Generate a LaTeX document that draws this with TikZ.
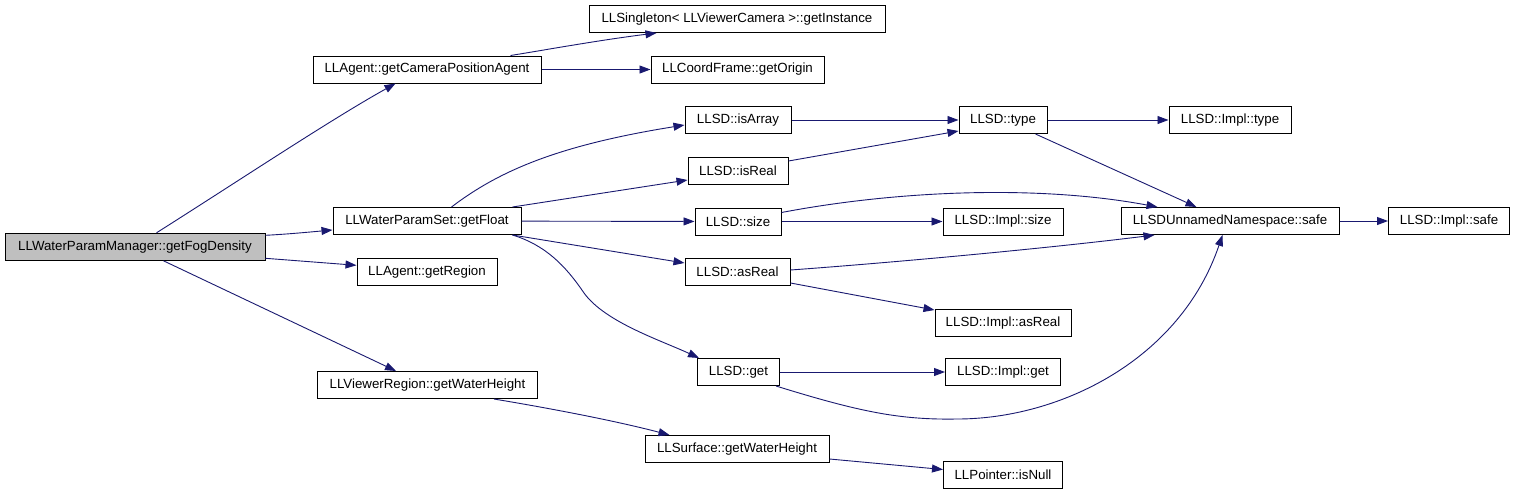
\documentclass[tikz,border=0pt]{standalone}
\usepackage{fontspec}
\setmainfont{Liberation Sans}
\usetikzlibrary{arrows.meta,calc}
\definecolor{edgecol}{HTML}{191970}
\definecolor{fillgray}{HTML}{BFBFBF}
\begin{document}
\begin{tikzpicture}[x=1pt,y=-1pt,
  fn/.style={draw=black, line width=1pt, minimum height=27pt, inner sep=0pt, fill=white,
             font=\fontsize{13.3}{15}\selectfont},
  ed/.style={draw=edgecol, line width=0.9pt, -{Triangle[length=11pt,width=8pt]}}]
\fill[white] (0,0) rectangle (1515,493);
\useasboundingbox (0,0) rectangle (1515,493);

\node[fn, fill=fillgray, minimum width=260pt] (fog) at (135,246.8) {LLWaterParamManager::getFogDensity};
\node[fn, minimum width=228pt] (cpa) at (427,69.5) {LLAgent::getCameraPositionAgent};
\node[fn, minimum width=296pt] (inst) at (737,19) {LLSingleton< LLViewerCamera >::getInstance};
\node[fn, minimum width=173pt] (origin) at (737.5,69.5) {LLCoordFrame::getOrigin};
\node[fn, minimum width=188pt] (float) at (427,221) {LLWaterParamSet::getFloat};
\node[fn, minimum width=140pt] (region) at (427,272) {LLAgent::getRegion};
\node[fn, minimum width=220pt] (vrwh) at (427.5,385) {LLViewerRegion::getWaterHeight};
\node[fn, minimum width=106pt] (isarray) at (738,120) {LLSD::isArray};
\node[fn, minimum width=100pt] (isreal) at (738,171) {LLSD::isReal};
\node[fn, minimum width=86pt] (size) at (738,221.5) {LLSD::size};
\node[fn, minimum width=105pt] (asreal) at (737.5,272) {LLSD::asReal};
\node[fn, minimum width=82pt] (get) at (738.5,372) {LLSD::get};
\node[fn, minimum width=184pt] (surf) at (737,449) {LLSurface::getWaterHeight};
\node[fn, minimum width=88pt] (type) at (1003,120) {LLSD::type};
\node[fn, minimum width=120pt] (isize) at (1003,221.5) {LLSD::Impl::size};
\node[fn, minimum width=136pt] (iasreal) at (1003,323) {LLSD::Impl::asReal};
\node[fn, minimum width=115pt] (iget) at (1003,372) {LLSD::Impl::get};
\node[fn, minimum width=119pt] (isnull) at (1003,474.5) {LLPointer::isNull};
\node[fn, minimum width=122pt] (itype) at (1230,120) {LLSD::Impl::type};
\node[fn, minimum width=218pt] (safe) at (1230,221) {LLSDUnnamedNamespace::safe};
\node[fn, minimum width=121pt] (isafe) at (1449,221) {LLSD::Impl::safe};

% from getFogDensity
\draw[ed] ($(fog.north west)+(152,0)$) .. controls (240,180) and (330,120) .. ($(cpa.south west)+(83,0)$);
\draw[ed] ($(fog.north east)+(0,2.5)$) .. controls (290,234) and (310,232) .. ($(float.west)+(0,9)$);
\draw[ed] ($(fog.south east)+(0,-2.5)$) -- ($(region.west)+(0,-6.7)$);
\draw[ed] ($(fog.south west)+(159,0)$) -- ($(vrwh.north west)+(79,0)$);

% from getCameraPositionAgent
\draw[ed] ($(cpa.north west)+(198,0)$) .. controls (545,50) and (600,40) .. ($(inst.south west)+(68,0)$);
\draw[ed] (cpa) -- (origin);

% from getFloat
\draw[ed] ($(float.north west)+(119,0)$) .. controls (500,170) and (560,145) .. ($(isarray.west)+(0,5)$);
\draw[ed] ($(float.north east)+(-9,0)$) -- ($(isreal.west)+(0,9)$);
\draw[ed] (float) -- (size);
\draw[ed] ($(float.south east)+(-9,0)$) -- ($(asreal.west)+(0,-9)$);
\draw[ed] ($(float.south east)+(-9,0)$) .. controls (545,245) and (565,265) .. (584,293)
          .. controls (605,322) and (660,340) .. ($(get.north west)+(2,0)$);

% LLSD level
\draw[ed] (isarray) -- (type);
\draw[ed] ($(isreal.north east)+(0,4)$) -- ($(type.west)+(0,11)$);
\draw[ed] (type) -- (itype);
\draw[ed] ($(type.south east)+(-12,0)$) -- ($(safe.north west)+(76,0)$);
\draw[ed] (size) -- (isize);
\draw[ed] ($(size.north east)+(0,5)$) .. controls (900,190) and (1040,185) .. ($(safe.north west)+(37,0)$);
\draw[ed] ($(asreal.east)+(0,-2)$) .. controls (900,262) and (1050,248) .. ($(safe.south west)+(34,0)$);
\draw[ed] ($(asreal.south east)+(0,-3)$) -- ($(iasreal.north west)+(0,1)$);
\draw[ed] (get) -- (iget);
\draw[ed] ($(get.south east)+(-4,0)$) .. controls (860,412) and (900,420) .. (957,419)
          .. controls (1060,419) and (1180,360) .. ($(safe.south west)+(102,0)$);
\draw[ed] (safe) -- (isafe);

% water height chain
\draw[ed] ($(vrwh.south east)+(-44,0)$) .. controls (560,410) and (620,422) .. ($(surf.north west)+(25,0)$);
\draw[ed] ($(surf.south east)+(0,-4)$) -- ($(isnull.west)+(0,-5)$);
\end{tikzpicture}
\end{document}
